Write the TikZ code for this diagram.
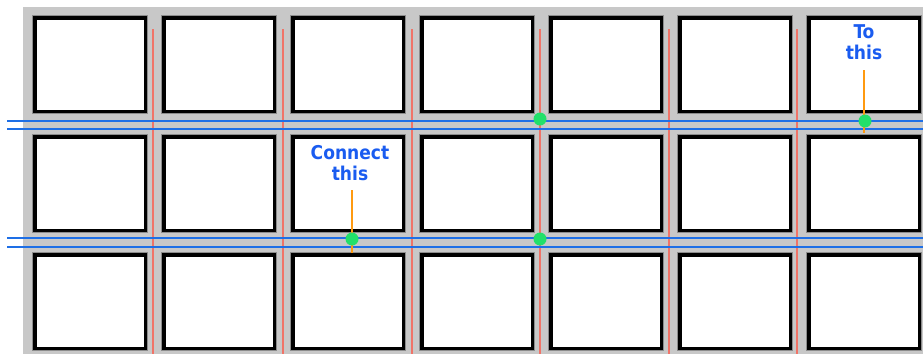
\documentclass[tikz,border=0pt]{standalone}
\usepackage{fontspec}
\newfontfamily\lblfont{DejaVu Sans Condensed}
\definecolor{bggray}{HTML}{C8C8C8}
\definecolor{gridred}{HTML}{F07468}
\definecolor{gridblue}{HTML}{1E6FE6}
\definecolor{dotgreen}{HTML}{22E06A}
\definecolor{pinorange}{HTML}{FF9A10}
\definecolor{txtblue}{HTML}{1A5CF0}
\tikzset{
  cell/.style={draw=black, fill=white, line width=3.5pt, minimum width=110.5pt, minimum height=93.5pt, inner sep=0pt,
    preaction={draw=black!45, line width=5.5pt}},
  redline/.style={draw=gridred, line width=2.4pt},
  blueline/.style={draw=gridblue, line width=2.6pt},
  pin/.style={draw=pinorange, line width=2.4pt},
  dot/.style={fill=dotgreen, circle, inner sep=0pt, minimum size=13pt},
  lbl/.style={text=txtblue, font=\lblfont\bfseries\fontsize{19}{21}\selectfont, align=center, inner sep=0pt}
}
\begin{document}
\begin{tikzpicture}[x=1pt,y=-1pt]
\useasboundingbox (0,0) rectangle (923,354);
\fill[bggray] (23,7) rectangle (923,354);
% cells
\foreach \r/\yy in {1/64.5,2/183.5,3/301.5}{
  \foreach \c in {1,...,7}{
    \node[cell] (b\r\c) at ({90+129*(\c-1)},\yy) {};
  }
}
% red vertical grid lines
\foreach \i/\xx in {1/153,2/283,3/412,4/540,5/669,6/797}{
  \coordinate (rt\i) at (\xx,29);
  \coordinate (rb\i) at (\xx,354);
  \draw[redline] (rt\i) -- (rb\i);
}
% blue horizontal double lines
\foreach \i/\yy in {1/121,2/129,3/238,4/247}{
  \coordinate (bl\i) at (7,\yy);
  \coordinate (br\i) at (923,\yy);
  \draw[blueline] (bl\i) -- (br\i);
}
% labels
\node[lbl] (connect) at (350,163) {Connect\\this};
\node[lbl] (tothis) at (864,42) {To\\this};
% pins
\coordinate (p1a) at (352,190);
\coordinate (p1b) at (352,253);
\coordinate (p2a) at (864,70);
\coordinate (p2b) at (864,133);
\draw[pin] (p1a) -- (p1b);
\draw[pin] (p2a) -- (p2b);
% dots
\node[dot] (d1) at (540,119) {};
\node[dot] (d2) at (865,121) {};
\node[dot] (d3) at (352,239) {};
\node[dot] (d4) at (540,239) {};
\end{tikzpicture}
\end{document}
